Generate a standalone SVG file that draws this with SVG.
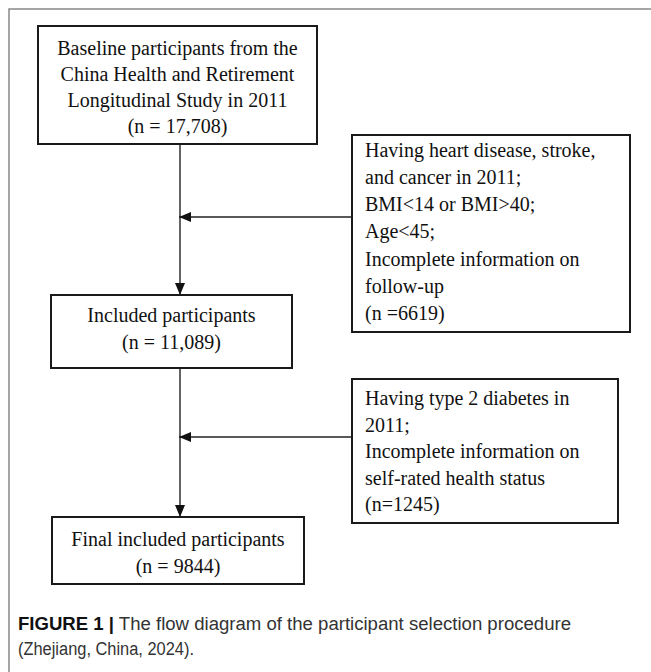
<svg xmlns="http://www.w3.org/2000/svg" width="651" height="672" viewBox="0 0 651 672">
<style>
.box{fill:#fff;stroke:#1a1a1a;stroke-width:2}
.t{font-family:"Liberation Serif","Times New Roman",serif;font-size:20px;fill:#111}
.c{text-anchor:middle}
.con{stroke:#222;stroke-width:1.4;fill:none}
.cap{font-family:"Liberation Sans",Arial,sans-serif;font-size:18px;fill:#333}
</style>
<defs>
<marker id="ah" viewBox="0 0 12 10" refX="12" refY="5" markerWidth="12" markerHeight="10" markerUnits="userSpaceOnUse" orient="auto">
<path d="M0,0 L12,5 L0,10 Z" fill="#111"/>
</marker>
</defs>
<rect width="651" height="672" fill="#fff"/>
<path d="M9,672 V9 H651" fill="none" stroke="#888" stroke-width="1.5"/>
<g id="connectors">
<line class="con" x1="180" y1="144" x2="180" y2="295" marker-end="url(#ah)"/>
<line class="con" x1="352" y1="217" x2="179" y2="217" marker-end="url(#ah)"/>
<line class="con" x1="180" y1="368" x2="180" y2="517" marker-end="url(#ah)"/>
<line class="con" x1="352" y1="437" x2="179" y2="437" marker-end="url(#ah)"/>
</g>
<g id="baseline">
<rect class="box" x="38" y="26" width="279" height="118"/>
<text class="t c" x="177.5" y="55">Baseline participants from the</text>
<text class="t c" x="177.5" y="81">China Health and Retirement</text>
<text class="t c" x="177.5" y="107">Longitudinal Study in 2011</text>
<text class="t c" x="177.5" y="133">(n = 17,708)</text>
</g>
<g id="exclusion1">
<rect class="box" x="352" y="135" width="278" height="197"/>
<text class="t" x="365" y="157">Having heart disease, stroke,</text>
<text class="t" x="365" y="184">and cancer in 2011;</text>
<text class="t" x="365" y="211">BMI&lt;14 or BMI&gt;40;</text>
<text class="t" x="365" y="238">Age&lt;45;</text>
<text class="t" x="365" y="266">Incomplete information on</text>
<text class="t" x="365" y="293">follow-up</text>
<text class="t" x="365" y="320">(n =6619)</text>
</g>
<g id="included">
<rect class="box" x="51" y="295" width="241" height="73"/>
<text class="t c" x="171.5" y="322">Included participants</text>
<text class="t c" x="171.5" y="349">(n = 11,089)</text>
</g>
<g id="exclusion2">
<rect class="box" x="352" y="379" width="266" height="144"/>
<text class="t" x="365" y="405">Having type 2 diabetes in</text>
<text class="t" x="365" y="431.5">2011;</text>
<text class="t" x="365" y="458">Incomplete information on</text>
<text class="t" x="365" y="484.5">self-rated health status</text>
<text class="t" x="365" y="511">(n=1245)</text>
</g>
<g id="final">
<rect class="box" x="52" y="517" width="252" height="67"/>
<text class="t c" x="178" y="546">Final included participants</text>
<text class="t c" x="178" y="573">(n = 9844)</text>
</g>
<text class="cap" x="18" y="630" textLength="553" lengthAdjust="spacingAndGlyphs"><tspan font-weight="bold" fill="#111">FIGURE 1 |</tspan> The flow diagram of the participant selection procedure</text>
<text class="cap" x="18" y="655" textLength="176" lengthAdjust="spacingAndGlyphs">(Zhejiang, China, 2024).</text>
</svg>
